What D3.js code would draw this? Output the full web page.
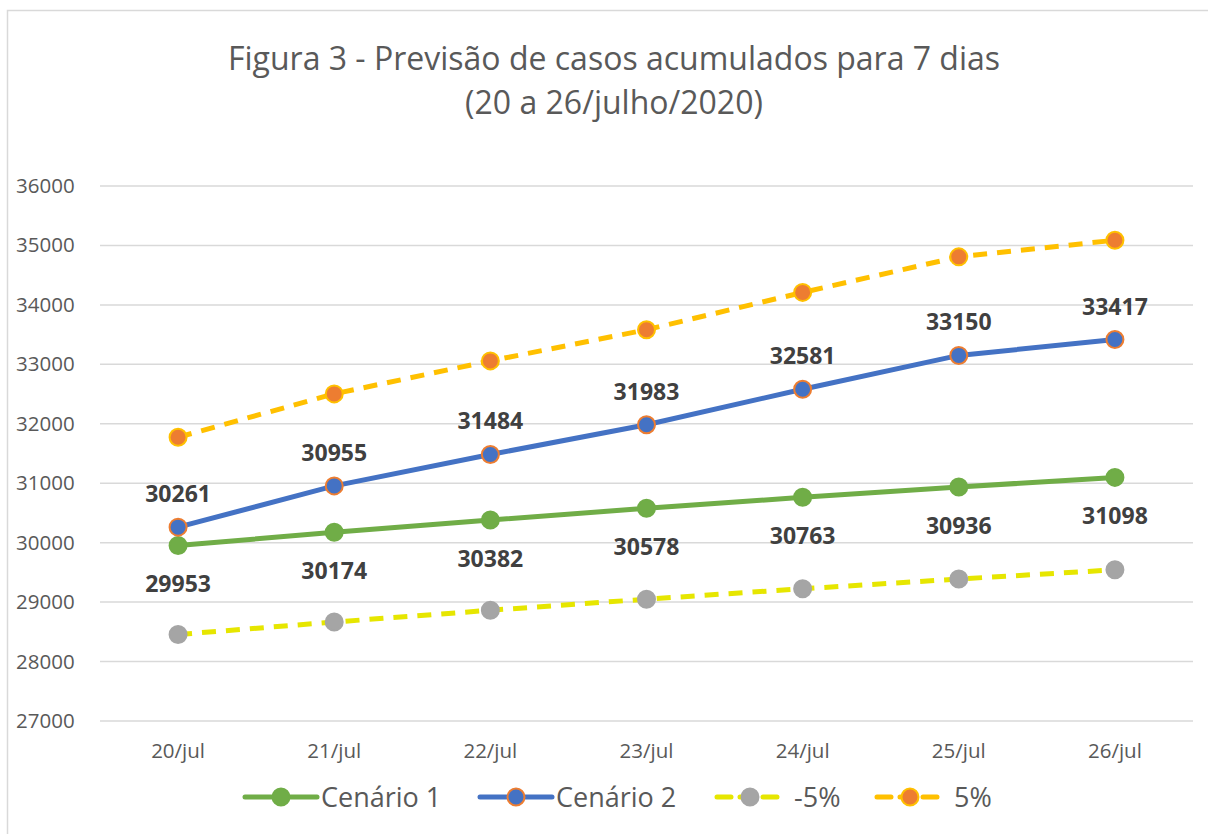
<!DOCTYPE html>
<html>
<head>
<meta charset="utf-8">
<script src="https://cdn.jsdelivr.net/npm/d3@7"></script>
<style>
  body { margin: 0; background: #fff; }
  svg text { font-family: "Open Sans", "Liberation Sans", sans-serif; }
</style>
</head>
<body>
<svg id="chart" width="1208" height="834"></svg>
<script>
const days = ['20/jul', '21/jul', '22/jul', '23/jul', '24/jul', '25/jul', '26/jul'];
const cenario1 = [29953, 30174, 30382, 30578, 30763, 30936, 31098];
const cenario2 = [30261, 30955, 31484, 31983, 32581, 33150, 33417];
const menos5 = [28455, 28665, 28863, 29049, 29225, 29389, 29543];
const mais5 = [31774, 32503, 33058, 33582, 34210, 34808, 35088];
const yTicks = [27000, 28000, 29000, 30000, 31000, 32000, 33000, 34000, 35000, 36000];

const series = [
    { name: 'Cenário 1', values: cenario1, line: '#70ad47', fill: '#70ad47', stroke: '#70ad47', dash: null, label: 'below' },
    { name: 'Cenário 2', values: cenario2, line: '#4472c4', fill: '#4472c4', stroke: '#ed7d31', dash: null, label: 'above' },
    { name: '-5%', values: menos5, line: '#e6e600', fill: '#a5a5a5', stroke: '#a5a5a5', dash: '14,10', label: null },
    { name: '5%', values: mais5, line: '#ffc000', fill: '#ed7d31', stroke: '#ffc000', dash: '14,10', label: null }
];

const svg = d3.select('#chart');

// chart area border
svg.append('rect')
    .attr('x', 7.5).attr('y', 10.5)
    .attr('width', 1220).attr('height', 840)
    .attr('fill', 'none').attr('stroke', '#d9d9d9').attr('stroke-width', 1.5);

// title
const title = svg.append('text')
    .attr('text-anchor', 'middle')
    .attr('fill', '#595959')
    .attr('font-size', 32);
title.append('tspan').attr('x', 614).attr('y', 70).text('Figura 3 - Previsão de casos acumulados para 7 dias');
title.append('tspan').attr('x', 614).attr('y', 114).text('(20 a 26/julho/2020)');

const x = d3.scaleBand().domain(days).range([100, 1193]);
const y = d3.scaleLinear().domain([27000, 36000]).range([721, 186]);

// grid
svg.append('g')
    .selectAll('line')
    .data(yTicks)
    .join('line')
    .attr('x1', 100).attr('x2', 1193)
    .attr('y1', d => y(d)).attr('y2', d => y(d))
    .attr('stroke', '#d9d9d9').attr('stroke-width', 1.5);

// y axis labels
svg.append('g')
    .selectAll('text')
    .data(yTicks)
    .join('text')
    .attr('x', 16).attr('y', d => y(d) + 7)
    .attr('fill', '#595959').attr('font-size', 20.5)
    .text(d => d);

// x axis labels
svg.append('g')
    .selectAll('text')
    .data(days)
    .join('text')
    .attr('x', d => x(d) + x.bandwidth() / 2).attr('y', 758)
    .attr('text-anchor', 'middle')
    .attr('fill', '#595959').attr('font-size', 20.5)
    .text(d => d);

const line = d3.line()
    .x((d, i) => x(days[i]) + x.bandwidth() / 2)
    .y(d => y(d));

// draw order: -5%, 5%, cenario 1, cenario 2
const order = [series[2], series[3], series[0], series[1]];
order.forEach(s => {
    const g = svg.append('g');
    g.append('path')
        .attr('d', line(s.values))
        .attr('fill', 'none')
        .attr('stroke', s.line)
        .attr('stroke-width', 5)
        .attr('stroke-dasharray', s.dash)
        .attr('stroke-linecap', s.dash ? 'butt' : 'round');
    g.selectAll('circle')
        .data(s.values)
        .join('circle')
        .attr('cx', (d, i) => x(days[i]) + x.bandwidth() / 2)
        .attr('cy', d => y(d))
        .attr('r', 8.5)
        .attr('fill', s.fill)
        .attr('stroke', s.stroke)
        .attr('stroke-width', 2);
});

// data labels
series.filter(s => s.label).forEach(s => {
    svg.append('g')
        .selectAll('text')
        .data(s.values)
        .join('text')
        .attr('x', (d, i) => x(days[i]) + x.bandwidth() / 2)
        .attr('y', d => s.label === 'above' ? y(d) - 25 : y(d) + 47)
        .attr('text-anchor', 'middle')
        .attr('fill', '#404040')
        .attr('font-size', 23)
        .attr('font-weight', 'bold')
        .text(d => d);
});

// legend
const legendItems = [
    { s: series[0], x0: 245, tx: 321 },
    { s: series[1], x0: 480, tx: 556 },
    { s: series[2], x0: 717, tx: 794 },
    { s: series[3], x0: 877, tx: 954 }
];
const legend = svg.append('g');
legendItems.forEach(({ s, x0, tx }) => {
    const ly = 797;
    legend.append('line')
        .attr('x1', x0).attr('x2', x0 + (s.dash ? 66 : 72))
        .attr('y1', ly).attr('y2', ly)
        .attr('stroke', s.line).attr('stroke-width', 5)
        .attr('stroke-dasharray', s.dash ? '14,9' : null)
        .attr('stroke-linecap', 'round');
    legend.append('circle')
        .attr('cx', x0 + (s.dash ? 33 : 36)).attr('cy', ly).attr('r', 8.5)
        .attr('fill', s.fill).attr('stroke', s.stroke).attr('stroke-width', 2);
    legend.append('text')
        .attr('x', tx).attr('y', ly + 10)
        .attr('fill', '#595959').attr('font-size', 27)
        .text(s.name);
});
</script>
</body>
</html>
